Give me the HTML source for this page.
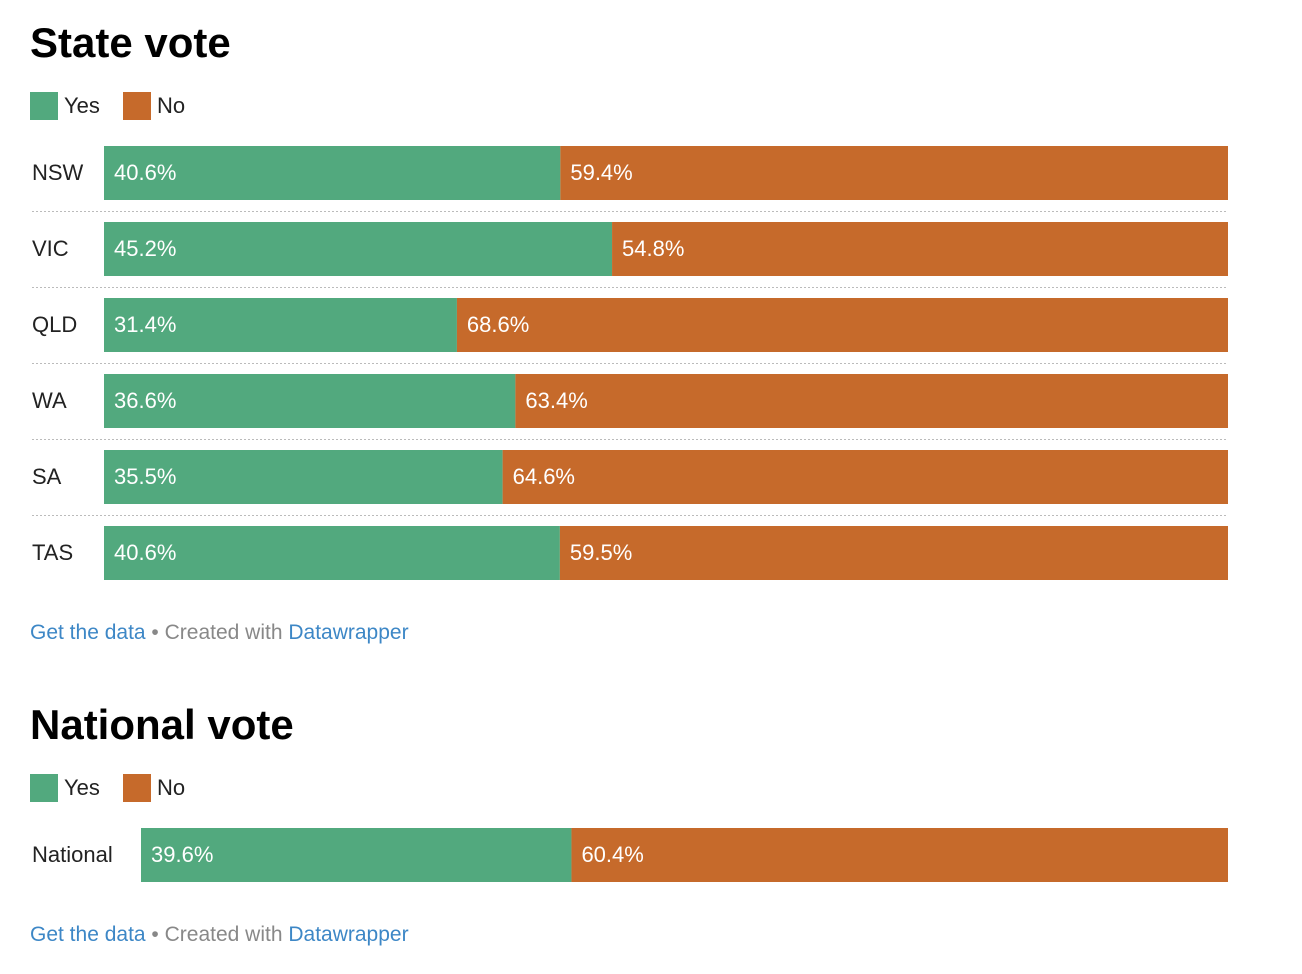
<!DOCTYPE html>
<html><head><meta charset="utf-8">
<style>
body{margin:0;background:#fff;width:1302px;height:974px;overflow:hidden;font-family:"Liberation Sans",Arial,sans-serif;}
svg{position:absolute;left:0;top:0}
</style></head>
<body>
<svg id="c" width="1302" height="974"></svg>
<script>
const states=["NSW","VIC","QLD","WA","SA","TAS"];
const yesVals=[40.6,45.2,31.4,36.6,35.5,40.6];
const noVals=[59.4,54.8,68.6,63.4,64.6,59.5];
const natCats=["National"];
const natYes=[39.6];
const natNo=[60.4];
const GREEN="#52a97e",ORANGE="#c66a2b";
const svg=document.getElementById('c');
const NS="http://www.w3.org/2000/svg";
function mk(tag,attrs,parent){const e=document.createElementNS(NS,tag);for(const k in attrs)e.setAttribute(k,attrs[k]);(parent||svg).appendChild(e);return e;}
function txt(x,y,s,attrs){const t=mk('text',Object.assign({x:x,y:y,'font-family':'Liberation Sans, Arial, sans-serif'},attrs));t.textContent=s;return t;}

function legend(y){
  const g=mk('g',{});
  
  
  const r1=mk('rect',{x:30,y:y,width:28,height:28,fill:GREEN},g);
  
  
  const t1=txt(64,y+21,'Yes',{'font-size':22,fill:'#222'});g.appendChild(t1);
  
  
  const r2=mk('rect',{x:123,y:y,width:28,height:28,fill:ORANGE},g);
  
  
  const t2=txt(157,y+21,'No',{'font-size':22,fill:'#222'});g.appendChild(t2);
  
  
}
function footer(y){
  const t=txt(30,y,'',{'font-size':21});
  
  
  const a=mk('tspan',{fill:'#3d87c6'},t);a.textContent='Get the data';
  
  
  const b=mk('tspan',{fill:'#888'},t);b.textContent=' • Created with ';
  const c=mk('tspan',{fill:'#3d87c6'},t);c.textContent='Datawrapper';
  
  
}
function bars(cats,ys,ns,x0,x1,top0,step,sep){
  const W=x1-x0;
  cats.forEach((cat,i)=>{
    const y=top0+i*step, tot=ys[i]+ns[i];
    const xs=x0+W*ys[i]/tot;
    const lab=txt(32,y+34,cat,{'font-size':22,fill:'#222'});
    
    
    const r1=mk('rect',{x:x0,y:y,width:xs-x0,height:54,fill:GREEN});
    
    
    const r2=mk('rect',{x:xs,y:y,width:x1-xs,height:54,fill:ORANGE});
    
    
    const v1=txt(x0+10,y+34,ys[i].toFixed(1)+'%',{'font-size':22,fill:'#fff'});
    
    
    const v2=txt(xs+10,y+34,ns[i].toFixed(1)+'%',{'font-size':22,fill:'#fff'});
    
    
    if(sep&&i<cats.length-1){
      const l=mk('line',{x1:32,x2:x1,y1:y+65.5,y2:y+65.5,stroke:'#bbb','stroke-width':1,'stroke-dasharray':'2,2'});
      
      
    }
  });
}
const t1=txt(30,57,'State vote',{'font-size':42,'font-weight':'bold',fill:'#000'});


legend(92);
bars(states,yesVals,noVals,104,1228,146,76,true);
footer(639);
const t2=txt(30,739,'National vote',{'font-size':42,'font-weight':'bold',fill:'#000'});


legend(774);
bars(natCats,natYes,natNo,141,1228,828,76,false);
footer(941);
</script>
</body></html>
